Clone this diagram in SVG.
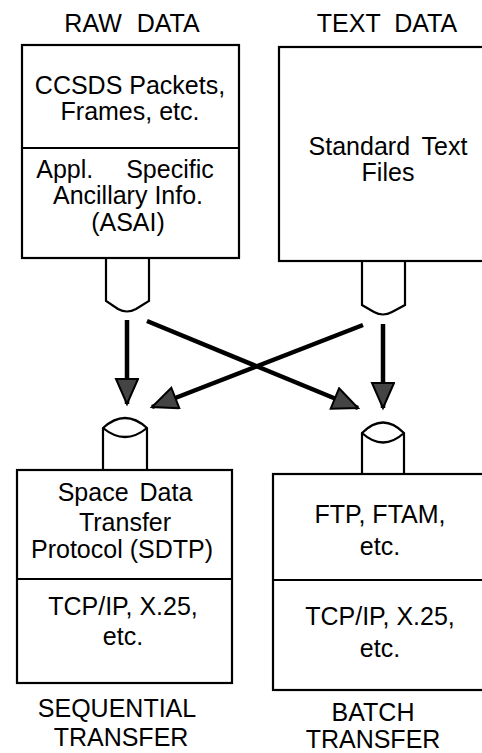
<svg xmlns="http://www.w3.org/2000/svg" width="482" height="753" viewBox="0 0 482 753">
<style>
text{font-family:"Liberation Sans",Arial,sans-serif;font-size:25px;fill:#000;text-anchor:middle}
.box{fill:none;stroke:#000;stroke-width:2.2}
.conn{fill:none;stroke:#000;stroke-width:2.2}
.arr{fill:none;stroke:#000;stroke-width:4.5}
</style>
<defs>
<marker id="ah" markerUnits="userSpaceOnUse" markerWidth="30" markerHeight="26" refX="27" refY="12" orient="auto">
<path d="M2,1 L27,12 L2,23 Z" fill="#444" stroke="#000" stroke-width="2"/>
</marker>
</defs>
<rect width="482" height="753" fill="#fff"/>
<text x="132" y="32" style="word-spacing:8px">RAW DATA</text>
<text x="387" y="32" style="word-spacing:7px">TEXT DATA</text>
<g id="raw">
<rect class="box" x="22" y="45" width="217" height="213"/>
<line class="box" x1="22" y1="148" x2="239" y2="148"/>
<text x="130" y="94">CCSDS Packets,</text>
<text x="130" y="120">Frames, etc.</text>
<text x="125" y="178" style="word-spacing:26px">Appl. Specific</text>
<text x="128" y="204">Ancillary Info.</text>
<text x="128" y="231">(ASAI)</text>
<path class="conn" d="M106,258 V301 L118,309 Q127,314 136,309 L149,301 V258"/>
</g>
<g id="text">
<rect class="box" x="279" y="47" width="230" height="214"/>
<text x="388" y="155" style="word-spacing:5px">Standard Text</text>
<text x="388" y="181">Files</text>
<path class="conn" d="M362,261 V305 L374,312 Q383,317 392,312 L405,305 V261"/>
</g>
<g id="connectors">
<line class="arr" x1="127" y1="320" x2="127" y2="404" marker-end="url(#ah)"/>
<line class="arr" x1="383" y1="324" x2="383" y2="408" marker-end="url(#ah)"/>
<line class="arr" x1="147" y1="321" x2="358" y2="408" marker-end="url(#ah)"/>
<line class="arr" x1="363" y1="325" x2="152" y2="407" marker-end="url(#ah)"/>
</g>
<g id="sequential">
<path class="conn" d="M103,470 V428 Q125,408 147,428 V470 M103,428 Q125,446 147,428"/>
<rect class="box" x="17" y="470" width="215" height="213"/>
<line class="box" x1="17" y1="579" x2="232" y2="579"/>
<text x="125" y="501" style="word-spacing:4px">Space Data</text>
<text x="125" y="531">Transfer</text>
<text x="122" y="558">Protocol (SDTP)</text>
<text x="123" y="615">TCP/IP, X.25,</text>
<text x="123" y="645">etc.</text>
<text x="117" y="717">SEQUENTIAL</text>
<text x="121" y="746">TRANSFER</text>
</g>
<g id="batch">
<path class="conn" d="M362,474 V433 Q383,412 404,433 V474 M362,433 Q383,452 404,433"/>
<rect class="box" x="273" y="474" width="230" height="216"/>
<line class="box" x1="273" y1="580" x2="490" y2="580"/>
<text x="380" y="523">FTP, FTAM,</text>
<text x="380" y="555">etc.</text>
<text x="380" y="625">TCP/IP, X.25,</text>
<text x="380" y="657">etc.</text>
<text x="373" y="721">BATCH</text>
<text x="373" y="748">TRANSFER</text>
</g>
</svg>
